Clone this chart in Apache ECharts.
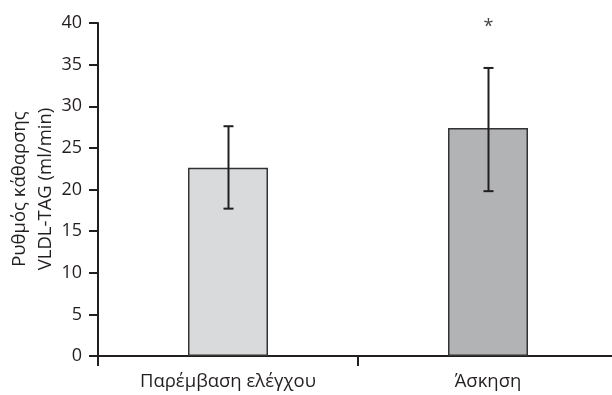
<!DOCTYPE html>
<html>
<head>
<meta charset="utf-8">
<script src="https://cdn.jsdelivr.net/npm/echarts@6/dist/echarts.min.js"></script>
<style>html,body{margin:0;padding:0;background:#fff}#c{width:612px;height:395px}</style>
</head>
<body>
<div id="c"></div>
<script>
var categories = ['Παρέμβαση ελέγχου', 'Άσκηση'];
var means = [22.6, 27.4];
var errLow = [17.7, 19.8];
var errHigh = [27.6, 34.6];
var significance = ['', '*'];
var barColors = ['#d9dadb', '#b2b3b4'];
var yTitleLines = ['Ρυθμός κάθαρσης', 'VLDL-TAG (ml/min)'];

var FONT = '"Open Sans", "Noto Sans", sans-serif';
var TXT = '#231f20';

var chart = echarts.init(document.getElementById('c'));
chart.setOption({
  animation: false,
  backgroundColor: '#fff',
  grid: { left: 98, top: 23, bottom: 39, right: -6, containLabel: false, outerBoundsMode: 'none' },
  graphic: yTitleLines.map(function (t, i) {
    return {
      type: 'text',
      x: 20 + i * 26,
      y: 189,
      rotation: Math.PI / 2,
      style: { text: t, fill: TXT, font: '18.5px ' + FONT, align: 'center', verticalAlign: 'middle' }
    };
  }),
  xAxis: {
    type: 'category',
    data: categories,
    axisLine: { lineStyle: { color: TXT, width: 2 } },
    axisTick: { show: true, length: 10, lineStyle: { color: TXT, width: 2 } },
    axisLabel: { color: TXT, fontSize: 18.5, fontFamily: FONT, margin: 16 }
  },
  yAxis: {
    type: 'value',
    min: 0, max: 40, interval: 5,
    splitLine: { show: false },
    axisLine: { show: true, lineStyle: { color: TXT, width: 2 } },
    axisTick: { show: true, length: 9, lineStyle: { color: TXT, width: 2 } },
    axisLabel: { color: TXT, fontSize: 18, fontFamily: FONT, margin: 16 }
  },
  series: [
    {
      type: 'bar',
      barWidth: 80,
      data: means.map(function (v, i) {
        return { value: v, itemStyle: { color: barColors[i] } };
      }),
      itemStyle: { borderColor: '#333', borderWidth: 1.5 },
      z: 2
    },
    {
      type: 'custom',
      z: 5,
      data: categories.map(function (c, i) { return [i, errLow[i], errHigh[i], i]; }),
      renderItem: function (params, api) {
        var i = api.value(0);
        var lo = api.coord([i, api.value(1)]);
        var hi = api.coord([i, api.value(2)]);
        var top = api.coord([i, 40]);
        var x = Math.round(lo[0]) + 0.5;
        var hw = 5;
        var style = { stroke: '#231f20', lineWidth: 2 };
        var children = [
          { type: 'line', shape: { x1: x, y1: hi[1], x2: x, y2: lo[1] }, style: style },
          { type: 'line', shape: { x1: x - hw, y1: hi[1], x2: x + hw, y2: hi[1] }, style: style },
          { type: 'line', shape: { x1: x - hw, y1: lo[1], x2: x + hw, y2: lo[1] }, style: style }
        ];
        var s = significance[api.value(3)];
        if (s) {
          children.push({
            type: 'text',
            style: { text: s, x: x, y: top[1] + 4, textAlign: 'center', textVerticalAlign: 'middle',
              fill: '#444', font: '18px ' + FONT }
          });
        }
        return { type: 'group', children: children };
      }
    }
  ]
});
</script>
</body>
</html>
